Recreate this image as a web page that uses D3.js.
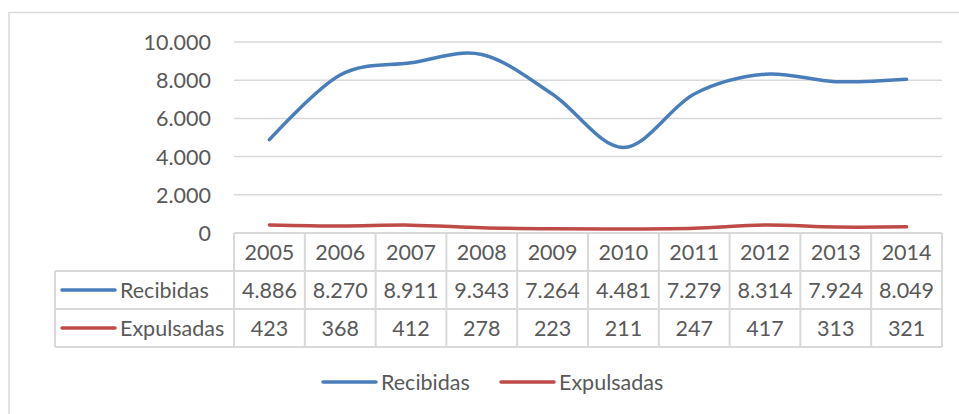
<!DOCTYPE html>
<html>
<head>
<meta charset="utf-8">
<script src="https://cdn.jsdelivr.net/npm/d3@7"></script>
<style>
  body { margin: 0; background: #fff; }
  text { font-family: Lato, "Open Sans", sans-serif; fill: #595959; }
</style>
</head>
<body>
<div class="chart-holder"></div>
<script>
// Data
const years = ["2005", "2006", "2007", "2008", "2009", "2010", "2011", "2012", "2013", "2014"];
const recibidas = [4886, 8270, 8911, 9343, 7264, 4481, 7279, 8314, 7924, 8049];
const expulsadas = [423, 368, 412, 278, 223, 211, 247, 417, 313, 321];
const seriesNames = ["Recibidas", "Expulsadas"];
const seriesColors = ["#4a7ebb", "#be4b48"];
const yTicks = [0, 2000, 4000, 6000, 8000, 10000];

const width = 959;
const height = 414;
const plot = { left: 234, right: 942, top: 42, bottom: 233 };
const rowH = 38;
const tableLeft = 55;
const gridColor = "#d9d9d9";
const fontSize = '21.5px';

// Spanish number format (dot as thousands separator)
const esLocale = d3.formatLocale({ decimal: ",", thousands: ".", grouping: [3], currency: ["", " €"] });
const fmt = esLocale.format(",d");

const svg = d3.select('.chart-holder').append('svg')
  .attr('width', width)
  .attr('height', height);

// chart border
svg.append('rect')
  .attr('x', 9).attr('y', 12.5)
  .attr('width', 1000).attr('height', 1000)
  .attr('fill', 'none')
  .attr('stroke', gridColor)
  .attr('stroke-width', 1.5);

const xScale = d3.scaleBand()
  .domain(years)
  .range([plot.left, plot.right]);

const yScale = d3.scaleLinear()
  .domain([0, 10000])
  .range([plot.bottom, plot.top]);

// gridlines
svg.append('g')
  .selectAll('line')
  .data(yTicks.filter(d => d > 0))
  .join('line')
  .attr('x1', plot.left).attr('x2', plot.right)
  .attr('y1', d => yScale(d)).attr('y2', d => yScale(d))
  .attr('stroke', gridColor)
  .attr('stroke-width', 1.5);

// y axis labels
const yAxis = svg.append('g')
  .attr('transform', 'translate(' + plot.left + ',0)')
  .call(d3.axisLeft(yScale).tickValues(yTicks).tickFormat(fmt).tickSize(0).tickPadding(23));
yAxis.select('.domain').remove();
yAxis.selectAll('text')
  .style('font-family', 'Lato, "Open Sans", sans-serif')
  .style('font-size', fontSize)
  .attr('fill', '#595959')
  .attr('dy', '0.35em');

// lines
const line = d3.line()
  .x((d, i) => xScale(years[i]) + xScale.bandwidth() / 2)
  .y(d => yScale(d))
  .curve(d3.curveCatmullRom.alpha(0));

[recibidas, expulsadas].forEach((vals, s) => {
  svg.append('path')
    .datum(vals)
    .attr('fill', 'none')
    .attr('stroke', seriesColors[s])
    .attr('stroke-width', 3.5)
    .attr('stroke-linecap', 'round')
    .attr('d', line);
});

// data table
const table = svg.append('g');
const tTop = plot.bottom;
const tBottom = tTop + rowH * 3;

// horizontal table lines
table.append('line')
  .attr('x1', plot.left).attr('x2', plot.right)
  .attr('y1', tTop).attr('y2', tTop);
[1, 2, 3].forEach(r => {
  table.append('line')
    .attr('x1', tableLeft).attr('x2', plot.right)
    .attr('y1', tTop + r * rowH).attr('y2', tTop + r * rowH);
});
// vertical table lines
table.append('line')
  .attr('x1', tableLeft).attr('x2', tableLeft)
  .attr('y1', tTop + rowH).attr('y2', tBottom);
years.forEach(y => {
  table.append('line')
    .attr('x1', xScale(y)).attr('x2', xScale(y))
    .attr('y1', tTop).attr('y2', tBottom);
});
table.append('line')
  .attr('x1', plot.right).attr('x2', plot.right)
  .attr('y1', tTop).attr('y2', tBottom);
table.selectAll('line')
  .attr('stroke', gridColor)
  .attr('stroke-width', 2);

// header row (years)
table.selectAll('text.year')
  .data(years)
  .join('text')
  .attr('class', 'year')
  .attr('x', d => xScale(d) + xScale.bandwidth() / 2)
  .attr('y', tTop + rowH / 2)
  .attr('dy', '0.35em')
  .attr('text-anchor', 'middle')
  .style('font-size', fontSize)
  .text(d => d);

// value rows
[recibidas, expulsadas].forEach((vals, s) => {
  const cy = tTop + rowH * (s + 1) + rowH / 2;
  table.append('line')
    .attr('x1', 62).attr('x2', 115)
    .attr('y1', cy).attr('y2', cy)
    .attr('stroke', seriesColors[s])
    .attr('stroke-width', 3.5)
    .attr('stroke-linecap', 'round');
  table.append('text')
    .attr('x', 120)
    .attr('y', cy)
    .attr('dy', '0.35em')
    .style('font-size', fontSize)
    .text(seriesNames[s]);
  table.selectAll('text.v' + s)
    .data(vals)
    .join('text')
    .attr('class', 'v' + s)
    .attr('x', (d, i) => xScale(years[i]) + xScale.bandwidth() / 2)
    .attr('y', cy)
    .attr('dy', '0.35em')
    .attr('text-anchor', 'middle')
    .style('font-size', fontSize)
    .text(d => fmt(d));
});

// legend
const legendX = [323, 501];
const legendY = 382;
seriesNames.forEach((name, s) => {
  svg.append('line')
    .attr('x1', legendX[s]).attr('x2', legendX[s] + 53)
    .attr('y1', legendY).attr('y2', legendY)
    .attr('stroke', seriesColors[s])
    .attr('stroke-width', 3.5)
    .attr('stroke-linecap', 'round');
  svg.append('text')
    .attr('x', legendX[s] + 58)
    .attr('y', legendY)
    .attr('dy', '0.35em')
    .style('font-size', fontSize)
    .text(name);
});
</script>
</body>
</html>
